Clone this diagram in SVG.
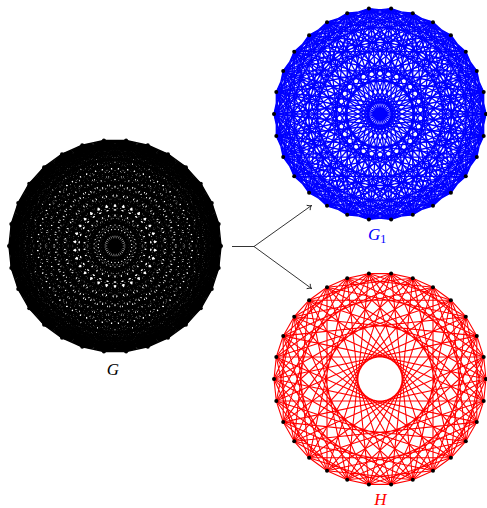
<svg xmlns="http://www.w3.org/2000/svg" width="487" height="508" viewBox="0 0 487 508">
<style>
.lbl{font-family:"Liberation Serif","Times New Roman",serif;font-style:italic;font-size:17px}
.conn{fill:none;stroke:#000;stroke-width:0.8}
</style>
<defs>
<marker id="arr" viewBox="-5 -4 6 8" markerWidth="6" markerHeight="8" refX="0" refY="0" orient="auto" markerUnits="userSpaceOnUse"><path d="M-3.8,-3 C-2.7,-1.5 -1.1,-0.4 0,0 C-1.1,0.4 -2.7,1.5 -3.8,3" fill="none" stroke="#000" stroke-width="0.8"/></marker>
<path id="d1" d="M11.1,-105.4 L32.8,-100.8 53,-91.8 70.9,-78.8 85.8,-62.3 96.8,-43.1 103.7,-22 106,0 103.7,22 96.8,43.1 85.8,62.3 70.9,78.8 53,91.8 32.8,100.8 11.1,105.4 -11.1,105.4 -32.8,100.8 -53,91.8 -70.9,78.8 -85.8,62.3 -96.8,43.1 -103.7,22 -106,0 -103.7,-22 -96.8,-43.1 -85.8,-62.3 -70.9,-78.8 -53,-91.8 -32.8,-100.8 -11.1,-105.4Z"/>
<path id="d2" d="M11.1,-105.4 L53,-91.8 85.8,-62.3 103.7,-22 103.7,22 85.8,62.3 53,91.8 11.1,105.4 -32.8,100.8 -70.9,78.8 -96.8,43.1 -106,0 -96.8,-43.1 -70.9,-78.8 -32.8,-100.8Z M32.8,-100.8 L70.9,-78.8 96.8,-43.1 106,0 96.8,43.1 70.9,78.8 32.8,100.8 -11.1,105.4 -53,91.8 -85.8,62.3 -103.7,22 -103.7,-22 -85.8,-62.3 -53,-91.8 -11.1,-105.4Z"/>
<path id="d3" d="M11.1,-105.4 L70.9,-78.8 103.7,-22 96.8,43.1 53,91.8 -11.1,105.4 -70.9,78.8 -103.7,22 -96.8,-43.1 -53,-91.8Z M32.8,-100.8 L85.8,-62.3 106,0 85.8,62.3 32.8,100.8 -32.8,100.8 -85.8,62.3 -106,0 -85.8,-62.3 -32.8,-100.8Z M53,-91.8 L96.8,-43.1 103.7,22 70.9,78.8 11.1,105.4 -53,91.8 -96.8,43.1 -103.7,-22 -70.9,-78.8 -11.1,-105.4Z"/>
<path id="d4" d="M11.1,-105.4 L85.8,-62.3 103.7,22 53,91.8 -32.8,100.8 -96.8,43.1 -96.8,-43.1 -32.8,-100.8 53,-91.8 103.7,-22 85.8,62.3 11.1,105.4 -70.9,78.8 -106,0 -70.9,-78.8Z M32.8,-100.8 L96.8,-43.1 96.8,43.1 32.8,100.8 -53,91.8 -103.7,22 -85.8,-62.3 -11.1,-105.4 70.9,-78.8 106,0 70.9,78.8 -11.1,105.4 -85.8,62.3 -103.7,-22 -53,-91.8Z"/>
<path id="d5" d="M11.1,-105.4 L96.8,-43.1 85.8,62.3 -11.1,105.4 -96.8,43.1 -85.8,-62.3Z M32.8,-100.8 L103.7,-22 70.9,78.8 -32.8,100.8 -103.7,22 -70.9,-78.8Z M53,-91.8 L106,0 53,91.8 -53,91.8 -106,0 -53,-91.8Z M70.9,-78.8 L103.7,22 32.8,100.8 -70.9,78.8 -103.7,-22 -32.8,-100.8Z M85.8,-62.3 L96.8,43.1 11.1,105.4 -85.8,62.3 -96.8,-43.1 -11.1,-105.4Z"/>
<path id="d6" d="M11.1,-105.4 L103.7,-22 53,91.8 -70.9,78.8 -96.8,-43.1Z M32.8,-100.8 L106,0 32.8,100.8 -85.8,62.3 -85.8,-62.3Z M53,-91.8 L103.7,22 11.1,105.4 -96.8,43.1 -70.9,-78.8Z M70.9,-78.8 L96.8,43.1 -11.1,105.4 -103.7,22 -53,-91.8Z M85.8,-62.3 L85.8,62.3 -32.8,100.8 -106,0 -32.8,-100.8Z M96.8,-43.1 L70.9,78.8 -53,91.8 -103.7,-22 -11.1,-105.4Z"/>
<path id="d7" d="M11.1,-105.4 L106,0 11.1,105.4 -103.7,22 -32.8,-100.8 96.8,-43.1 53,91.8 -85.8,62.3 -70.9,-78.8 70.9,-78.8 85.8,62.3 -53,91.8 -96.8,-43.1 32.8,-100.8 103.7,22 -11.1,105.4 -106,0 -11.1,-105.4 103.7,-22 32.8,100.8 -96.8,43.1 -53,-91.8 85.8,-62.3 70.9,78.8 -70.9,78.8 -85.8,-62.3 53,-91.8 96.8,43.1 -32.8,100.8 -103.7,-22Z"/>
<path id="d8" d="M11.1,-105.4 L103.7,22 -32.8,100.8 -96.8,-43.1 53,-91.8 85.8,62.3 -70.9,78.8 -70.9,-78.8 85.8,-62.3 53,91.8 -96.8,43.1 -32.8,-100.8 103.7,-22 11.1,105.4 -106,0Z M32.8,-100.8 L96.8,43.1 -53,91.8 -85.8,-62.3 70.9,-78.8 70.9,78.8 -85.8,62.3 -53,-91.8 96.8,-43.1 32.8,100.8 -103.7,22 -11.1,-105.4 106,0 -11.1,105.4 -103.7,-22Z"/>
<path id="d9" d="M11.1,-105.4 L96.8,43.1 -70.9,78.8 -53,-91.8 103.7,-22 -11.1,105.4 -96.8,-43.1 70.9,-78.8 53,91.8 -103.7,22Z M32.8,-100.8 L85.8,62.3 -85.8,62.3 -32.8,-100.8 106,0 -32.8,100.8 -85.8,-62.3 85.8,-62.3 32.8,100.8 -106,0Z M53,-91.8 L70.9,78.8 -96.8,43.1 -11.1,-105.4 103.7,22 -53,91.8 -70.9,-78.8 96.8,-43.1 11.1,105.4 -103.7,-22Z"/>
<path id="d10" d="M11.1,-105.4 L85.8,62.3 -96.8,43.1Z M32.8,-100.8 L70.9,78.8 -103.7,22Z M53,-91.8 L53,91.8 -106,0Z M70.9,-78.8 L32.8,100.8 -103.7,-22Z M85.8,-62.3 L11.1,105.4 -96.8,-43.1Z M96.8,-43.1 L-11.1,105.4 -85.8,-62.3Z M103.7,-22 L-32.8,100.8 -70.9,-78.8Z M106,0 L-53,91.8 -53,-91.8Z M103.7,22 L-70.9,78.8 -32.8,-100.8Z M96.8,43.1 L-85.8,62.3 -11.1,-105.4Z"/>
<path id="d11" d="M11.1,-105.4 L70.9,78.8 -106,0 70.9,-78.8 11.1,105.4 -85.8,-62.3 103.7,-22 -53,91.8 -32.8,-100.8 96.8,43.1 -96.8,43.1 32.8,-100.8 53,91.8 -103.7,-22 85.8,-62.3 -11.1,105.4 -70.9,-78.8 106,0 -70.9,78.8 -11.1,-105.4 85.8,62.3 -103.7,22 53,-91.8 32.8,100.8 -96.8,-43.1 96.8,-43.1 -32.8,100.8 -53,-91.8 103.7,22 -85.8,62.3Z"/>
<path id="d12" d="M11.1,-105.4 L53,91.8 -96.8,-43.1 103.7,-22 -70.9,78.8Z M32.8,-100.8 L32.8,100.8 -85.8,-62.3 106,0 -85.8,62.3Z M53,-91.8 L11.1,105.4 -70.9,-78.8 103.7,22 -96.8,43.1Z M70.9,-78.8 L-11.1,105.4 -53,-91.8 96.8,43.1 -103.7,22Z M85.8,-62.3 L-32.8,100.8 -32.8,-100.8 85.8,62.3 -106,0Z M96.8,-43.1 L-53,91.8 -11.1,-105.4 70.9,78.8 -103.7,-22Z"/>
<path id="d13" d="M11.1,-105.4 L32.8,100.8 -70.9,-78.8 96.8,43.1 -106,0 96.8,-43.1 -70.9,78.8 32.8,-100.8 11.1,105.4 -53,-91.8 85.8,62.3 -103.7,-22 103.7,-22 -85.8,62.3 53,-91.8 -11.1,105.4 -32.8,-100.8 70.9,78.8 -96.8,-43.1 106,0 -96.8,43.1 70.9,-78.8 -32.8,100.8 -11.1,-105.4 53,91.8 -85.8,-62.3 103.7,22 -103.7,22 85.8,-62.3 -53,91.8Z"/>
<path id="d14" d="M11.1,-105.4 L11.1,105.4 -32.8,-100.8 53,91.8 -70.9,-78.8 85.8,62.3 -96.8,-43.1 103.7,22 -106,0 103.7,-22 -96.8,43.1 85.8,-62.3 -70.9,78.8 53,-91.8 -32.8,100.8Z M32.8,-100.8 L-11.1,105.4 -11.1,-105.4 32.8,100.8 -53,-91.8 70.9,78.8 -85.8,-62.3 96.8,43.1 -103.7,-22 106,0 -103.7,22 96.8,-43.1 -85.8,62.3 70.9,-78.8 -53,91.8Z"/>
<path id="d15" d="M11.1,-105.4 L-11.1,105.4 M32.8,-100.8 L-32.8,100.8 M53,-91.8 L-53,91.8 M70.9,-78.8 L-70.9,78.8 M85.8,-62.3 L-85.8,62.3 M96.8,-43.1 L-96.8,43.1 M103.7,-22 L-103.7,22 M106,0 L-106,0 M103.7,22 L-103.7,-22 M96.8,43.1 L-96.8,-43.1 M85.8,62.3 L-85.8,-62.3 M70.9,78.8 L-70.9,-78.8 M53,91.8 L-53,-91.8 M32.8,100.8 L-32.8,-100.8 M11.1,105.4 L-11.1,-105.4"/>
<g id="dots">
<circle cx="11.1" cy="-105.4" r="2"/><circle cx="32.8" cy="-100.8" r="2"/><circle cx="53" cy="-91.8" r="2"/><circle cx="70.9" cy="-78.8" r="2"/><circle cx="85.8" cy="-62.3" r="2"/><circle cx="96.8" cy="-43.1" r="2"/><circle cx="103.7" cy="-22" r="2"/><circle cx="106" cy="0" r="2"/><circle cx="103.7" cy="22" r="2"/><circle cx="96.8" cy="43.1" r="2"/><circle cx="85.8" cy="62.3" r="2"/><circle cx="70.9" cy="78.8" r="2"/><circle cx="53" cy="91.8" r="2"/><circle cx="32.8" cy="100.8" r="2"/><circle cx="11.1" cy="105.4" r="2"/><circle cx="-11.1" cy="105.4" r="2"/><circle cx="-32.8" cy="100.8" r="2"/><circle cx="-53" cy="91.8" r="2"/><circle cx="-70.9" cy="78.8" r="2"/><circle cx="-85.8" cy="62.3" r="2"/><circle cx="-96.8" cy="43.1" r="2"/><circle cx="-103.7" cy="22" r="2"/><circle cx="-106" cy="0" r="2"/><circle cx="-103.7" cy="-22" r="2"/><circle cx="-96.8" cy="-43.1" r="2"/><circle cx="-85.8" cy="-62.3" r="2"/><circle cx="-70.9" cy="-78.8" r="2"/><circle cx="-53" cy="-91.8" r="2"/><circle cx="-32.8" cy="-100.8" r="2"/><circle cx="-11.1" cy="-105.4" r="2"/>
</g>
</defs>
<rect width="487" height="508" fill="#fff"/>
<g id="node-G" transform="translate(115,246)">
<g fill="none" stroke="#000" stroke-width="1.5" stroke-linejoin="round">
<use href="#d1"/><use href="#d2"/><use href="#d3"/><use href="#d4"/><use href="#d5"/><use href="#d6"/><use href="#d7"/><use href="#d8"/><use href="#d9"/><use href="#d10"/><use href="#d11"/><use href="#d12"/><use href="#d13"/><use href="#d14"/><use href="#d15"/>
</g>
<use href="#dots" fill="#000"/>
</g>
<text id="label-G" class="lbl" x="113" y="375" text-anchor="middle" fill="#000">G</text>
<g id="node-G1" transform="translate(380,114)">
<g fill="none" stroke="#00f" stroke-width="1.3" stroke-linejoin="round">
<use href="#d2"/><use href="#d3"/><use href="#d5"/><use href="#d6"/><use href="#d8"/><use href="#d9"/><use href="#d11"/><use href="#d12"/><use href="#d14"/><use href="#d15"/>
</g>
<use href="#dots" fill="#000"/>
</g>
<text id="label-G1" class="lbl" x="368" y="240" fill="#00f">G<tspan font-style="normal" font-size="12" dy="3">1</tspan></text>
<g id="node-H" transform="translate(380,379)">
<g fill="none" stroke="#f00" stroke-width="1.1" stroke-linejoin="round">
<use href="#d1"/><use href="#d4"/><use href="#d7"/><use href="#d10"/><use href="#d13"/>
</g>
<use href="#dots" fill="#000"/>
</g>
<text id="label-H" class="lbl" x="380.5" y="505" text-anchor="middle" fill="#f00">H</text>
<g id="connectors">
<path class="conn" d="M232,246.5 H254 L311.5,205.5" marker-end="url(#arr)"/>
<path class="conn" d="M254,246.5 L311.5,288.5" marker-end="url(#arr)"/>
</g>
</svg>
